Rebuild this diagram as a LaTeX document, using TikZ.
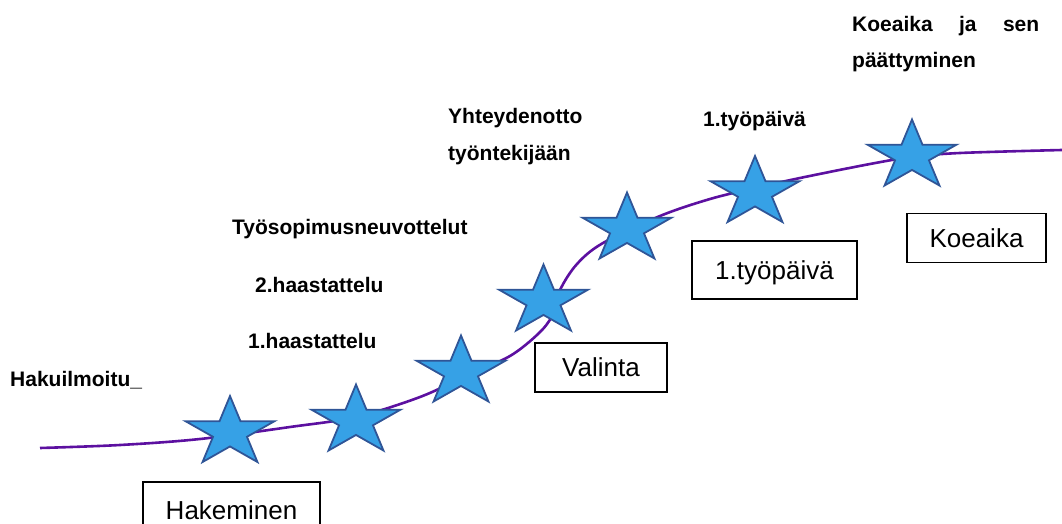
\documentclass[tikz,border=0pt]{standalone}
\usepackage{fontspec}
\setmainfont{Liberation Sans}
\usetikzlibrary{shapes.geometric}
\definecolor{pathpurple}{RGB}{92,16,160}
\definecolor{starfill}{RGB}{54,161,230}
\definecolor{stardraw}{RGB}{47,85,151}
\tikzset{
  milestone/.style={star, star points=5, star point ratio=2.618,
    minimum size=73pt, inner sep=0pt, xscale=1.28,
    draw=stardraw, line width=1.8pt, fill=starfill},
  phasebox/.style={draw=black, line width=1.2pt, fill=white,
    font=\fontsize{26}{30}\selectfont, text height=18.6pt, text depth=0pt,
    inner sep=0pt},
  steplabel/.style={anchor=base west, inner sep=0pt, font=\bfseries\fontsize{21}{36.5}\selectfont},
  route/.style={draw=pathpurple, line width=2.6pt}
}
\begin{document}
\begin{tikzpicture}[x=1pt,y=-1pt]
\useasboundingbox (0,0) rectangle (1062,524);
\clip (0,0) rectangle (1062,524);

% the route of the recruitment process
\draw[route] plot[smooth, tension=0.55] coordinates {
  (40,448) (120,445) (200,439) (290,427) (356,417) (420,397) (470,374)
  (510,356) (538,334) (552,316) (560,290) (577,264) (603,243) (660,216)
  (710,199) (755,188) (800,178) (870,164) (912,157) (960,153) (1062,150)};

% milestones along the route
\node[milestone] (s1) at (230,432.5) {};
\node[milestone] (s2) at (356,421) {};
\node[milestone] (s3) at (461,372) {};
\node[milestone] (s4) at (543.5,301) {};
\node[milestone] (s5) at (627,229) {};
\node[milestone] (s6) at (755,192.5) {};
\node[milestone] (s7) at (912,156) {};

% phases
\node[phasebox, minimum width=177pt, minimum height=56pt] (hak) at (231.5,510) {Hakeminen};
\node[phasebox, minimum width=132pt, minimum height=49pt] (val) at (601,367.5) {Valinta};
\node[phasebox, minimum width=165pt, minimum height=58pt] (tp) at (774.5,270) {1.työpäivä};
\node[phasebox, minimum width=139pt, minimum height=49pt] (koe) at (976.5,238) {Koeaika};

% step labels (multi-line labels are anchored at the baseline of their last line)
\node[steplabel] (l1) at (10,386) {Hakuilmoitu\_};
\node[steplabel] (l2) at (248,348) {1.haastattelu};
\node[steplabel] (l3) at (255,292) {2.haastattelu};
\node[steplabel] (l4) at (232,234) {Työsopimusneuvottelut};
\node[steplabel, align=left] (l5) at (448,160) {Yhteydenotto\\työntekijään};
\node[steplabel] (l6) at (703,127) {1.työpäivä};
\node[steplabel, align=left] (l7) at (852,68) {\hbox to 187pt{Koeaika\hfill ja\hfill sen}\\päättyminen};
\end{tikzpicture}
\end{document}
